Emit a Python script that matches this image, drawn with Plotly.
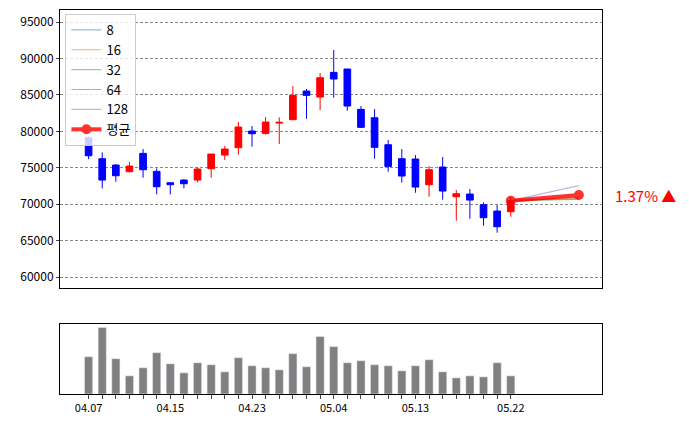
import plotly.graph_objects as go

# daily candles (index 0 = 04.07)
opens = [79120, 76242, 75373, 74458, 76975, 74504, 72950, 73315, 73315, 74870, 76746, 77752,
         80040, 79720, 81137, 81595, 85530, 84707, 88092, 88550, 83014, 81870, 78165, 76243,
         76197, 72675, 75100, 71028, 71394, 69930, 69060, 68970]
closes = [76650, 73315, 73910, 75236, 74733, 72400, 72674, 72811, 74824, 76883, 77570, 80589,
          79673, 81275, 81230, 84935, 84935, 87360, 87177, 83471, 80544, 77800, 75190, 73865,
          72355, 74733, 71806, 71440, 70570, 68145, 66910, 70480]
highs = [79300, 77112, 75510, 75785, 77570, 74916, 72950, 73450, 75053, 76883, 77980, 81275,
         80726, 81960, 81915, 86216, 85805, 88000, 91158, 88550, 83471, 83060, 78805, 77570,
         76746, 75236, 76472, 71943, 72080, 70250, 69885, 71028]
lows = [76180, 72170, 73085, 74367, 73635, 71348, 71348, 72170, 72994, 73635, 76060, 76791,
        77890, 79535, 78256, 81550, 81733, 82922, 84615, 82830, 80452, 76243, 74458, 72950,
        71577, 71028, 70616, 67733, 68008, 67046, 66086, 68283]
volumes = [111, 198, 105, 54, 78, 123, 90, 63, 93, 87, 66, 108, 84, 78, 72, 120, 81, 171,
           141, 93, 99, 87, 84, 69, 84, 102, 66, 48, 54, 51, 93, 54]
tick_labels = {0: "04.07", 6: "04.15", 12: "04.23", 18: "05.04", 24: "05.13", 31: "05.22"}

# projected averages
horizon = 36
proj_names = ["8", "16", "32", "64", "128"]
proj_values = [70750, 70850, 70650, 70950, 72540]
proj_colors = ["#1f77b4", "#ff7f0e", "#2ca02c", "#d62728", "#9467bd"]
avg_value = 71257
change_text = "1.37% ▲"

idx = list(range(len(opens)))
last = idx[-1]

fig = go.Figure()
fig.add_trace(go.Candlestick(
    x=idx, open=opens, high=highs, low=lows, close=closes,
    increasing=dict(line=dict(color="red", width=1), fillcolor="red"),
    decreasing=dict(line=dict(color="blue", width=1), fillcolor="blue"),
    showlegend=False, xaxis="x", yaxis="y",
))
for name, val, col in zip(proj_names, proj_values, proj_colors):
    fig.add_trace(go.Scatter(
        x=[last, horizon], y=[closes[-1], val], mode="lines", name=name,
        line=dict(color=col, width=1.2), opacity=0.5, xaxis="x", yaxis="y",
    ))
fig.add_trace(go.Scatter(
    x=[last, horizon], y=[closes[-1], avg_value], mode="lines+markers", name="평균",
    line=dict(color="red", width=4), marker=dict(size=10, color="red"),
    opacity=0.8, xaxis="x", yaxis="y",
))
fig.add_trace(go.Bar(x=idx, y=volumes, marker_color="gray", width=0.6,
                     showlegend=False, xaxis="x2", yaxis="y2"))

fig.add_annotation(text=change_text, x=1.02, xref="paper", y=avg_value, yref="y",
                   xanchor="left", showarrow=False, font=dict(color="red", size=15))

xr = [-2.1, 37.7]
fig.update_layout(
    width=689, height=428,
    margin=dict(l=52, r=95, t=2, b=42),
    paper_bgcolor="white", plot_bgcolor="white",
    font=dict(family="Noto Sans CJK KR, DejaVu Sans", size=12, color="black"),
    xaxis=dict(domain=[0, 1], anchor="y", range=xr, showticklabels=False, ticks="",
               showgrid=False, rangeslider=dict(visible=False),
               showline=True, linecolor="black", mirror=True),
    yaxis=dict(domain=[0.276, 1], range=[58500, 96650], dtick=5000, tickformat="d",
               showgrid=True, gridcolor="#888888", griddash="3px,2px", gridwidth=0.6,
               zeroline=False, ticks="outside", ticklen=3, automargin=False,
               showline=True, linecolor="black", mirror=True),
    xaxis2=dict(domain=[0, 1], anchor="y2", range=xr, tickmode="array",
                tickvals=idx, ticktext=[tick_labels.get(i, "") for i in idx],
                ticks="outside", ticklen=4, showgrid=False, tickfont=dict(size=11),
                showline=True, linecolor="black", mirror=True),
    yaxis2=dict(domain=[0, 0.182], range=[0, 208], showticklabels=False, showgrid=False,
                zeroline=False, showline=True, linecolor="black", mirror=True),
    legend=dict(x=0.01, y=0.99, xanchor="left", yanchor="top", bgcolor="rgba(255,255,255,0.8)",
                bordercolor="#cccccc", borderwidth=1, font=dict(size=13)),
    hovermode=False,
)

fig.write_html("out.html")
